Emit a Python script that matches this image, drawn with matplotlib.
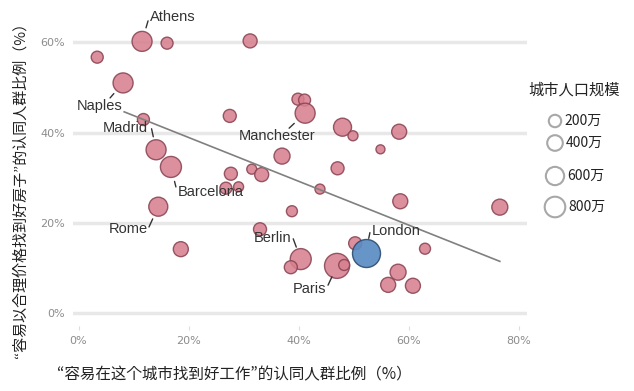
import numpy as np
import matplotlib
matplotlib.use("Agg")
import matplotlib.pyplot as plt

# share of people agreeing "easy to find a good job" (x, %) / "easy to find good housing at a reasonable price" (y, %)
job_pct = [11.55, 16.1, 31.2, 3.4, 8.1, 11.8, 14.1, 16.8, 27.7, 31.5,
           33.3, 27.5, 39.9, 41.1, 41.2, 37.0, 48.0, 49.9, 58.3, 54.9,
           47.1, 26.8, 29.1, 43.9, 58.5, 76.6, 14.5, 38.8, 33.0, 18.6,
           50.3, 63.0, 40.4, 38.6, 47.0, 48.3, 58.1, 56.3, 60.8]
house_pct = [60.2, 59.8, 60.3, 56.7, 51.0, 42.9, 36.2, 32.4, 30.9, 31.9,
             30.7, 43.7, 47.4, 47.2, 44.3, 34.8, 41.2, 39.3, 40.2, 36.3,
             32.1, 27.7, 28.0, 27.5, 24.8, 23.5, 23.6, 22.6, 18.6, 14.2,
             15.5, 14.3, 12.0, 10.2, 10.5, 10.7, 9.1, 6.3, 6.1]
pop_wan = [746, 178, 294, 178, 746, 178, 746, 837, 234, 81,
           294, 234, 178, 178, 746, 427, 578, 81, 358, 39,
           234, 178, 81, 81, 358, 427, 660, 127, 234, 358,
           234, 127, 837, 234, 1245, 127, 427, 358, 358]

london = (52.2, 13.3, 1598)

trend_x = [8.3, 76.6]
trend_y = [44.6, 11.5]

legend_pops = [200, 400, 600, 800]
legend_labels = ["200万", "400万", "600万", "800万"]

# name -> index into job_pct/house_pct (None = London)
labelled = {"Athens": 0, "Naples": 4, "Madrid": 6, "Manchester": 14,
            "Barcelona": 7, "Rome": 26, "Berlin": 32, "Paris": 34, "London": None}

# label layout in pixels relative to the bubble: text offset, ha, leader start, leader end distance
label_layout = {
    "Athens":     ((8, -24.5), "left",   (6, -20.5), 14.1),
    "Naples":     ((-23, 23), "center",  (-13, 15), 14.1),
    "Madrid":     ((-8, -22), "right",   (-4.5, -21), 13.3),
    "Manchester": ((-28.5, 23), "center", (-16, 15), 14.9),
    "Barcelona":  ((7, 25), "left",      (5, 20), 14.9),
    "Rome":       ((-10.3, 22.3), "right", (-9.3, 20.3), 13.4),
    "Berlin":     ((-9.5, -21.3), "right", (-7.5, -20.3), 12.8),
    "London":     ((6.3, -22.3), "left",  (4.3, -20.6), 15.2),
    "Paris":      ((-11, 23.3), "right",  (-9, 19.3), 12.0),
}

PINK = "#d8808f"
PINK_EDGE = "#8a4453"
BLUE = "#5a8cc4"
BLUE_EDGE = "#2d4e73"
CJK = ["Noto Sans CJK JP", "DejaVu Sans"]


def bubble_size(p):
    return 33 + 0.2337 * np.asarray(p, dtype=float)


W, H = 634, 391
fig = plt.figure(figsize=(W / 100, H / 100), dpi=100)
ax = fig.add_axes([73.3 / W, 1 - 326 / H, (526.5 - 73.3) / W, (326 - 5) / H])
ax.set_xlim(-0.95, 81.45)
ax.set_ylim(-2.81, 68.25)
for s in ax.spines.values():
    s.set_visible(False)

ax.set_yticks([0, 20, 40, 60])
ax.set_yticklabels(["0%", "20%", "40%", "60%"])
ax.set_xticks([0, 20, 40, 60, 80])
ax.set_xticklabels(["0%", "20%", "40%", "60%", "80%"])
ax.tick_params(axis="y", length=0, pad=5.8, labelsize=8, labelcolor="#8c8c8c")
ax.tick_params(axis="x", length=3, width=0.8, color="#dddddd", pad=4,
               labelsize=8, labelcolor="#8c8c8c")
ax.yaxis.grid(True, color="#e8e8e8", lw=2.5)
ax.set_axisbelow(True)

ax.scatter(job_pct, house_pct, s=bubble_size(pop_wan), c=PINK, edgecolors=PINK_EDGE,
           linewidths=1.0, alpha=0.88, zorder=2)
ax.scatter([london[0]], [london[1]], s=bubble_size([london[2]]), c=BLUE,
           edgecolors=BLUE_EDGE, linewidths=1.0, alpha=0.92, zorder=2.5)
ax.plot(trend_x, trend_y, color="#808080", lw=1.2, zorder=3)

PT = 0.72  # points per pixel at 100 dpi
for name, idx in labelled.items():
    if idx is None:
        px, py = london[0], london[1]
    else:
        px, py = job_pct[idx], house_pct[idx]
    (tx, ty), ha, (lx, ly), dist = label_layout[name]
    ax.annotate(name, xy=(px, py), xytext=(tx * PT, -ty * PT), textcoords="offset points",
                ha=ha, va="center", fontsize=10.5, family="Liberation Sans",
                color="#333333", zorder=5)
    ax.annotate("", xy=(px, py), xytext=(lx * PT, -ly * PT), textcoords="offset points",
                arrowprops=dict(arrowstyle="-", color="#333333", lw=1.0,
                                shrinkA=0, shrinkB=dist * PT), zorder=5)

fig.text(20 / W, 1 - 186 / H, "“容易以合理价格找到好房子”的认同人群比例（%）", rotation=90,
         ha="center", va="center", fontsize=10.8, family=CJK, color="#222222")
fig.text(57 / W, 1 - 375 / H, "“容易在这个城市找到好工作”的认同人群比例（%）",
         ha="left", va="center", fontsize=11.2, family=CJK, color="#222222")

# size legend
lax = fig.add_axes([0, 0, 1, 1], facecolor="none")
lax.set_xlim(0, W)
lax.set_ylim(H, 0)
lax.axis("off")
lax.text(574, 90, "城市人口规模", ha="center", va="center", fontsize=11,
         family=CJK, color="#222222")
leg_y = [121, 143, 176, 207]
sizes = bubble_size(legend_pops)
lax.scatter([555] * 4, leg_y, s=sizes, facecolors="white", edgecolors="#a8a8a8", linewidths=1.5)
for y, sz, lab in zip(leg_y, sizes, legend_labels):
    r_px = np.sqrt(sz) / 2 / PT
    lax.text(555 + r_px + 3, y, lab, ha="left", va="center", fontsize=10,
             family=CJK, color="#222222")

fig.savefig("out.png", dpi=100)
